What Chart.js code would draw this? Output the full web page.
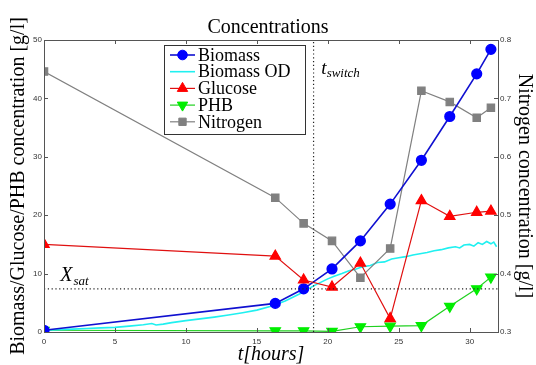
<!DOCTYPE html>
<html><head><meta charset="utf-8">
<script src="https://cdn.jsdelivr.net/npm/chart.js@4.4.0/dist/chart.umd.min.js"></script>
<style>html,body{margin:0;padding:0;background:#fff}#wrap{width:536px;height:365px}</style>
</head><body><div id="wrap"><canvas id="c" width="536" height="365"></canvas></div>
<script>
// ---- data ----
const sampleTimes = [0, 16.3, 18.3, 20.3, 22.3, 24.4, 26.6, 28.6, 30.5, 31.5];
const biomass   = [0.3, 4.9, 7.4, 10.8, 15.6, 21.9, 29.4, 36.9, 44.2, 48.4];
const glucose   = [15.0, 13.0, 8.9, 7.7, 11.8, 2.3, 22.5, 19.8, 20.5, 20.7];
const phb       = [0.3, 0.2, 0.2, 0.1, 0.9, 1.0, 1.1, 4.4, 7.4, 9.4];
const nitrogen  = [0.746, 0.530, 0.486, 0.456, 0.393, 0.443, 0.713, 0.694, 0.667, 0.684];
const odTimes  = [0,1,2,3,4,5,6,7,7.6,7.9,8.4,9,10,11,12,13,14,15,16,17,18,19,19.5,20,20.5,21,21.5,22,22.5,23,23.5,24,24.5,25,25.5,26,26.5,27,27.5,28,28.5,29,29.3,29.6,30,30.3,30.6,30.9,31.2,31.5,31.7,31.9];
const odValues = [0.3,0.4,0.5,0.6,0.7,0.8,1.0,1.25,1.45,1.2,1.35,1.6,1.95,2.25,2.55,2.9,3.3,3.75,4.4,5.3,6.5,7.9,8.5,9.1,9.6,10.0,10.5,10.8,11.2,11.4,11.9,12.0,12.5,12.7,12.9,13.2,13.4,13.6,13.9,14.1,14.4,14.6,14.4,14.9,15.0,14.7,15.3,15.0,15.5,15.1,15.4,14.6];
const tSwitch = 19;
const xSat = 7.4;
const xTickValues = [0,5,10,15,20,25,30];
const yTickValues = [0,10,20,30,40,50];
const y2TickValues = [0.3,0.4,0.5,0.6,0.7,0.8];
const seriesLabels = ['Biomass','Biomass OD','Glucose','PHB','Nitrogen'];

const pts = (xs, ys) => xs.map((x,i)=>({x:x, y:ys[i]}));

const SERIF = "'Liberation Serif', 'Times New Roman', serif";
const SANS = "'Liberation Sans', Arial, sans-serif";

const datasets = [
  {label:'tswitch', data:[{x:tSwitch,y:0},{x:tSwitch,y:50}], yAxisID:'y', borderColor:'#222', borderWidth:1.2, borderDash:[1.2,2.6], pointRadius:0, order:0},
  {label:'xsat', data:[{x:0,y:xSat},{x:32,y:xSat}], yAxisID:'y', borderColor:'#222', borderWidth:1.2, borderDash:[1.2,2.6], pointRadius:0, order:0},
  {label:seriesLabels[2], data:pts(sampleTimes,glucose), yAxisID:'y', borderColor:'#e01010', backgroundColor:'#ff0000', pointBorderColor:'#ff0000', borderWidth:1.2, pointStyle:'triangle', pointRadius:6, order:1},
  {label:seriesLabels[0], data:pts(sampleTimes,biomass), yAxisID:'y', borderColor:'#1010d0', backgroundColor:'#0000ff', pointBorderColor:'#0000ff', borderWidth:1.6, pointStyle:'circle', pointRadius:4.8, order:2},
  {label:seriesLabels[4], data:pts(sampleTimes,nitrogen), yAxisID:'y2', borderColor:'#808080', backgroundColor:'#808080', pointBorderColor:'#808080', borderWidth:1.2, pointStyle:'rect', pointRadius:5.2, order:3},
  {label:seriesLabels[1], data:pts(odTimes,odValues), yAxisID:'y', borderColor:'#20f0f0', borderWidth:1.6, pointRadius:0, order:4},
  {label:seriesLabels[3], data:pts(sampleTimes,phb), yAxisID:'y', borderColor:'#20d020', backgroundColor:'#00ee00', pointBorderColor:'#00ee00', borderWidth:1.2, pointStyle:'triangle', rotation:180, pointRadius:6, order:5}
];

function mkPoint(ctx, style, r, rot, fill, x, y){
  ctx.save();
  ctx.fillStyle = fill; ctx.strokeStyle = fill; ctx.lineWidth = 1;
  ctx.beginPath();
  if (style === 'circle') { ctx.arc(x,y,r,0,Math.PI*2); }
  else if (style === 'rect') { const s = r*Math.SQRT1_2; ctx.rect(x-s,y-s,2*s,2*s); }
  else if (style === 'triangle') {
    let a = rot*Math.PI/180;
    ctx.moveTo(x+Math.sin(a)*r, y-Math.cos(a)*r);
    a += 2*Math.PI/3; ctx.lineTo(x+Math.sin(a)*r, y-Math.cos(a)*r);
    a += 2*Math.PI/3; ctx.lineTo(x+Math.sin(a)*r, y-Math.cos(a)*r);
    ctx.closePath();
  }
  ctx.fill(); ctx.stroke();
  ctx.restore();
}

const decorPlugin = {
  id:'decor',
  afterDraw(chart){
    const ctx = chart.ctx, a = chart.chartArea;
    const xs = chart.scales.x, ys = chart.scales.y, y2 = chart.scales.y2;
    ctx.save();
    // box
    ctx.strokeStyle = '#555'; ctx.lineWidth = 1;
    ctx.strokeRect(Math.round(a.left)+0.5, Math.round(a.top)+0.5, Math.round(a.right-a.left), Math.round(a.bottom-a.top));
    // inward ticks
    const tl = 4;
    ctx.beginPath();
    xs.ticks.forEach(t=>{ const px = Math.round(xs.getPixelForValue(t.value))+0.5;
      ctx.moveTo(px,a.bottom); ctx.lineTo(px,a.bottom-tl);
      ctx.moveTo(px,a.top); ctx.lineTo(px,a.top+tl); });
    ys.ticks.forEach(t=>{ const py = Math.round(ys.getPixelForValue(t.value))+0.5;
      ctx.moveTo(a.left,py); ctx.lineTo(a.left+tl,py); });
    y2.ticks.forEach(t=>{ const py = Math.round(y2.getPixelForValue(t.value))+0.5;
      ctx.moveTo(a.right,py); ctx.lineTo(a.right-tl,py); });
    ctx.stroke();
    // annotation labels
    ctx.fillStyle = '#000'; ctx.textBaseline = 'alphabetic'; ctx.textAlign = 'left';
    let px = xs.getPixelForValue(1.15), py = ys.getPixelForValue(8.7);
    ctx.font = "italic 20px " + SERIF; ctx.fillText('X', px, py);
    let w = ctx.measureText('X').width;
    ctx.font = "italic 13px " + SERIF; ctx.fillText('sat', px + w + 1, py + 4);
    px = xs.getPixelForValue(19.55); py = ys.getPixelForValue(44.2);
    ctx.font = "italic 19px " + SERIF; ctx.fillText('t', px, py);
    w = ctx.measureText('t').width;
    ctx.font = "italic 13px " + SERIF; ctx.fillText('switch', px + w, py + 3);
    // legend
    const L = 164.5, T = 45.5, R = 305.5, B = 134.5;
    ctx.fillStyle = '#fff'; ctx.fillRect(L, T, R-L, B-T);
    ctx.strokeStyle = '#333'; ctx.lineWidth = 1; ctx.strokeRect(L, T, R-L, B-T);
    const order = [3, 5, 2, 6, 4];
    order.forEach((di, k)=>{
      const ds = chart.data.datasets[di];
      const cy = 55 + k*16.7;
      ctx.strokeStyle = ds.borderColor; ctx.lineWidth = ds.borderWidth;
      ctx.beginPath(); ctx.moveTo(170, cy); ctx.lineTo(195, cy); ctx.stroke();
      if (ds.pointRadius > 0) mkPoint(ctx, ds.pointStyle, ds.pointRadius, ds.rotation||0, ds.backgroundColor, 182.5, cy);
      ctx.fillStyle = '#000'; ctx.font = "18px " + SERIF; ctx.textBaseline = 'middle';
      ctx.fillText(ds.label, 198, cy + 1);
    });
    ctx.restore();
  }
};

new Chart(document.getElementById('c'), {
  type:'line',
  data:{ datasets: datasets },
  options:{
    responsive:false, animation:false, devicePixelRatio:1,
    layout:{ padding:0 },
    plugins:{
      legend:{ display:false },
      tooltip:{ enabled:false },
      title:{ display:true, text:'Concentrations', color:'#000',
        font:{ family:SERIF, size:20, weight:'normal', lineHeight:1.2 }, padding:{top:16, bottom:0} }
    },
    scales:{
      x:{ type:'linear', position:'bottom', min:0, max:32,
        afterBuildTicks:s=>{ s.ticks = xTickValues.map(v=>({value:v})); },
        ticks:{ font:{family:SANS, size:8}, color:'#333', padding:5, maxRotation:0, autoSkip:false },
        grid:{ display:false, drawTicks:false }, border:{ display:false },
        title:{ display:true, text:'t[hours]', color:'#000', font:{family:SERIF, size:20, style:'italic', lineHeight:1}, padding:{top:0,bottom:0} },
        afterFit:s=>{ s.height = 33; } },
      y:{ type:'linear', position:'left', min:0, max:50,
        afterBuildTicks:s=>{ s.ticks = yTickValues.map(v=>({value:v})); },
        ticks:{ font:{family:SANS, size:8}, color:'#333', padding:2 },
        grid:{ display:false, drawTicks:false }, border:{ display:false },
        title:{ display:true, text:'Biomass/Glucose/PHB concentration [g/l]', color:'#000', font:{family:SERIF, size:20, lineHeight:1.2}, padding:{top:7,bottom:0} },
        afterFit:s=>{ s.width = 44; } },
      y2:{ type:'linear', position:'right', min:0.3, max:0.8,
        afterBuildTicks:s=>{ s.ticks = y2TickValues.map(v=>({value:v})); },
        ticks:{ font:{family:SANS, size:8}, color:'#333', padding:2, callback:v=>Number(v).toFixed(1) },
        grid:{ display:false, drawTicks:false }, border:{ display:false },
        title:{ display:true, text:'Nitrogen concentration [g/l]', color:'#000', font:{family:SERIF, size:20, lineHeight:1.2}, padding:{top:0,bottom:0} },
        afterFit:s=>{ s.width = 38; } }
    }
  },
  plugins:[decorPlugin]
});
</script></body></html>
